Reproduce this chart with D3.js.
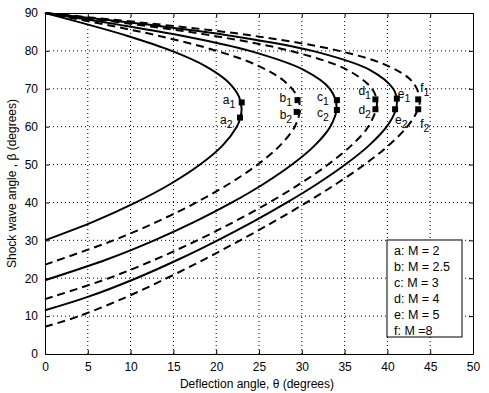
<!DOCTYPE html>
<html>
<head>
<meta charset="utf-8">
<script src="https://cdn.jsdelivr.net/npm/d3@7"></script>
<style>
body { margin: 0; background: #fff; }
text { font-family: "Liberation Sans", Arial, sans-serif; fill: #000; }
</style>
</head>
<body>
<svg id="chart"></svg>
<script>
// [deflection angle theta, shock wave angle beta]
const curveA = [[0,30],[5.75,35],[10.62,40],[14.74,45],[18.12,50],[20.73,55],[22.41,60],[22.78,62],[22.97,64.67],[22.65,68],[21.30,72],[18.73,76],[14.81,80],[9.57,84],[4.94,87],[0,90]];
const curveB = [[0,23.58],[7.99,30],[13.18,35],[17.68,40],[21.57,45],[24.85,50],[27.44,55],[29.18,60],[29.78,64],[29.80,64.78],[29.47,68],[27.97,72],[24.97,76],[20.09,80],[13.22,84],[6.90,87],[0,90]];
const curveC = [[0,19.47],[7.28,25],[12.77,30],[17.58,35],[21.85,40],[25.62,45],[28.86,50],[31.49,55],[33.32,60],[34.07,65],[33.28,70],[30.21,75],[23.92,80],[15.99,84],[8.42,87],[0,90]];
const curveD = [[0,14.48],[7.44,20],[12.94,25],[17.78,30],[22.18,35],[26.21,40],[29.85,45],[33.07,50],[35.77,55],[37.76,60],[38.78,66],[38.20,70],[35.29,75],[28.65,80],[19.61,84],[10.46,87],[0,90]];
const curveE = [[0,11.54],[4.91,15],[10.67,20],[15.64,25],[20.17,30],[24.38,35],[28.28,40],[31.87,45],[35.08,50],[37.83,55],[39.92,60],[40.91,64],[41.12,66.6],[40.68,70],[37.93,75],[31.25,80],[21.68,84],[11.68,87],[0,90]];
const curveF = [[0,7.18],[3.98,10],[9.47,15],[14.22,20],[18.63,25],[22.80,30],[26.78,35],[30.56,40],[34.09,45],[37.32,50],[40.12,55],[42.32,60],[43.45,64],[43.79,67.3],[42.87,72],[40.10,76],[34.38,80],[24.31,84],[13.26,87],[0,90]];

const curveLetters = ['a', 'b', 'c', 'd', 'e', 'f'];
const legendLabels = ['a: M = 2', 'b: M = 2.5', 'c: M = 3', 'd: M = 4', 'e: M = 5', 'f: M =8'];

// marked points on each curve: 1 = upper, 2 = lower
const markers1 = [[22.98,66.4],[29.5,67.0],[34.1,67.0],[38.6,67.2],[41.1,67.4],[43.6,67.2]];
const markers2 = [[22.78,62.4],[29.4,63.9],[34.1,64.4],[38.6,64.6],[40.9,64.6],[43.6,64.6]];

const xTicks = [0, 5, 10, 15, 20, 25, 30, 35, 40, 45, 50];
const yTicks = [0, 10, 20, 30, 40, 50, 60, 70, 80, 90];

const width = 489, height = 393;
const margin = {left: 45, top: 13, right: 16, bottom: 39};
const plotW = width - margin.left - margin.right;
const plotH = height - margin.top - margin.bottom;

// label offsets in pixels from the marker: [dx, dy]
const upperOffsets = [[-19,2],[-18,2],[-20,1],[-17,-4],[1,-1],[2,-7]];
const lowerOffsets = [[-20,6],[-17,7],[-20,7],[-17,5],[0,15],[2,19]];

const svg = d3.select('#chart')
    .attr('width', width)
    .attr('height', height);

svg.append('rect').attr('width', width).attr('height', height).attr('fill', '#fff');

const x = d3.scaleLinear().domain([0, 50]).range([0, plotW]);
const y = d3.scaleLinear().domain([0, 90]).range([plotH, 0]);

const g = svg.append('g')
    .attr('transform', `translate(${margin.left},${margin.top})`);

// Grid
g.append('g')
    .selectAll('line')
    .data(xTicks.slice(1, -1))
    .enter().append('line')
    .attr('x1', d => x(d)).attr('x2', d => x(d))
    .attr('y1', 0).attr('y2', plotH)
    .attr('stroke', '#000').attr('stroke-width', 1)
    .attr('stroke-dasharray', '1,3');

g.append('g')
    .selectAll('line')
    .data(yTicks.slice(1, -1))
    .enter().append('line')
    .attr('x1', 0).attr('x2', plotW)
    .attr('y1', d => y(d)).attr('y2', d => y(d))
    .attr('stroke', '#000').attr('stroke-width', 1)
    .attr('stroke-dasharray', '1,3');

// Axes, box with inward ticks on all sides
g.append('g')
    .attr('transform', `translate(0,${plotH})`)
    .call(d3.axisBottom(x).tickValues(xTicks).tickSizeInner(-4).tickSizeOuter(0).tickPadding(8));
g.append('g')
    .call(d3.axisLeft(y).tickValues(yTicks).tickSizeInner(-4).tickSizeOuter(0).tickPadding(7));
g.append('g')
    .call(d3.axisTop(x).tickValues(xTicks).tickSizeInner(-4).tickSizeOuter(0).tickFormat(''));
g.append('g')
    .attr('transform', `translate(${plotW},0)`)
    .call(d3.axisRight(y).tickValues(yTicks).tickSizeInner(-4).tickSizeOuter(0).tickFormat(''));

g.selectAll('.domain').attr('stroke', '#000');
g.selectAll('.tick line').attr('stroke', '#000');
g.selectAll('.tick text').style('font-size', '12px').style('font-family', '"Liberation Sans", Arial, sans-serif');

// Curves
const line = d3.line()
    .x(d => x(d[0]))
    .y(d => y(d[1]))
    .curve(d3.curveCatmullRom.alpha(0.5));

const curves = [curveA, curveB, curveC, curveD, curveE, curveF];
curves.forEach((c, i) => {
    g.append('path')
        .datum(c)
        .attr('d', line)
        .attr('fill', 'none')
        .attr('stroke', '#000')
        .attr('stroke-width', 2)
        .attr('stroke-dasharray', i % 2 === 1 ? '8,5' : null);
});

// Markers and their labels
function drawMarkers(points, offsets, sub) {
    points.forEach((p, i) => {
        const px = x(p[0]), py = y(p[1]);
        g.append('rect')
            .attr('x', px - 3).attr('y', py - 3)
            .attr('width', 6).attr('height', 6)
            .attr('fill', '#000');
        const t = g.append('text')
            .attr('x', px + offsets[i][0])
            .attr('y', py + offsets[i][1])
            .style('font-size', '12px');
        t.append('tspan').text(curveLetters[i]);
        t.append('tspan').attr('dy', 4).style('font-size', '10.5px').text(sub);
    });
}
drawMarkers(markers1, upperOffsets, '1');
drawMarkers(markers2, lowerOffsets, '2');

// Legend
const legX = 342, legY = 227;
const lg = svg.append('g').attr('transform', `translate(${margin.left + legX},${margin.top + legY})`);
lg.append('rect')
    .attr('width', 75).attr('height', 97)
    .attr('fill', '#fff').attr('stroke', '#000').attr('stroke-width', 1);
lg.selectAll('text')
    .data(legendLabels)
    .enter().append('text')
    .attr('x', 7)
    .attr('y', (d, i) => 14.5 + i * 16)
    .style('font-size', '12.5px')
    .text(d => d);

// Axis titles
svg.append('text')
    .attr('x', margin.left + plotW / 2 - 2)
    .attr('y', 388)
    .attr('text-anchor', 'middle')
    .style('font-size', '12px')
    .text('Deflection angle, \u03B8 (degrees)');

svg.append('text')
    .attr('transform', `translate(16,${margin.top + plotH / 2}) rotate(-90)`)
    .attr('text-anchor', 'middle')
    .style('font-size', '12px')
    .text('Shock wave angle , \u03B2 (degrees)');
</script>
</body>
</html>
